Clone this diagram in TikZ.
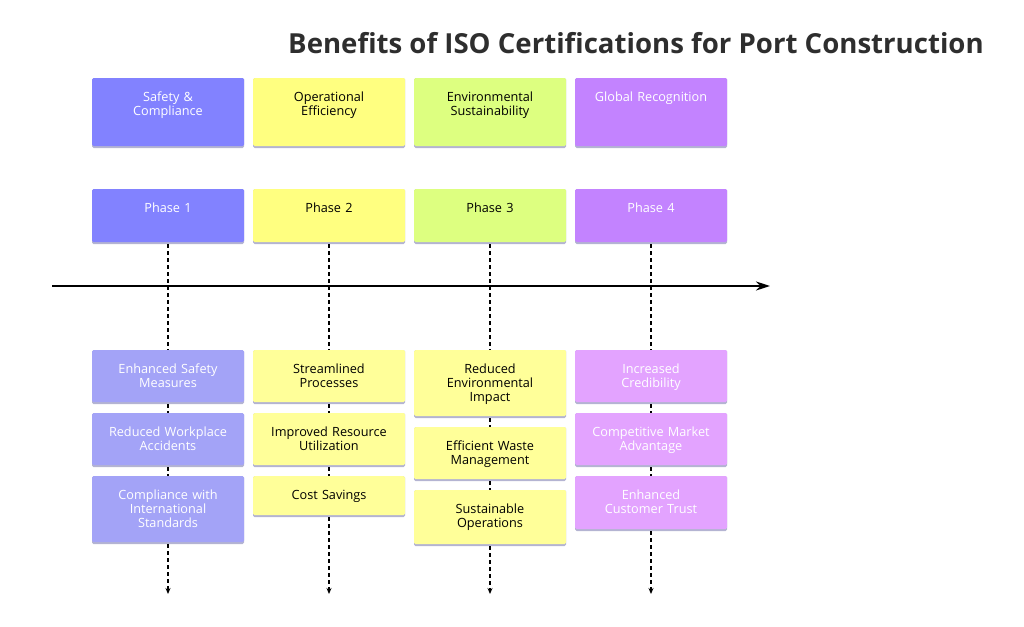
\documentclass[tikz,border=0pt]{standalone}
\usepackage{fontspec}
\setmainfont{Open Sans}
\usetikzlibrary{arrows.meta}
\definecolor{cA}{HTML}{8282FF}\definecolor{cAl}{HTML}{A3A3F7}
\definecolor{cB}{HTML}{FFFF80}\definecolor{cBl}{HTML}{FFFF99}
\definecolor{cC}{HTML}{DDFF80}
\definecolor{cD}{HTML}{C383FF}\definecolor{cDl}{HTML}{E3A3FF}
\definecolor{sh}{HTML}{B4B4D2}
\begin{document}
\begin{tikzpicture}[x=1pt,y=-1pt,
  lbl/.style={anchor=north,text width=146pt,align=center,font=\fontsize{12.7}{14}\selectfont,inner sep=0pt},
  dl/.style={line width=1.6pt,dash pattern=on 4pt off 3pt},
  ]
\useasboundingbox (0,0) rectangle (1024,626);
\node[anchor=center,font=\bfseries\fontsize{27.6}{30}\selectfont,text=black!82] (title) at (636,43) {Benefits of ISO Certifications for Port Construction};
\newcommand\bx[7]{% name, cx, top, bottom, fill, textcolor, text
  \fill[sh,rounded corners=1.5pt] (#2-76,#3) rectangle (#2+76,#4+2);
  \fill[#5,rounded corners=1.5pt] (#2-76,#3) rectangle (#2+76,#4);
  \coordinate (#1t) at (#2,#3); \coordinate (#1b) at (#2,#4+2);
  \node[lbl,text=#6] (#1) at (#2,#3+14) {#7};}
\bx{h1}{168}{78}{146}{cA}{white}{Safety \&\\Compliance}
\bx{h2}{329}{78}{146}{cB}{black}{Operational\\Efficiency}
\bx{h3}{490}{78}{146}{cC}{black}{Environmental\\Sustainability}
\bx{h4}{651}{78}{146}{cD}{white}{Global Recognition}
\bx{p1}{168}{189}{242}{cA}{white}{Phase 1}
\bx{p2}{329}{189}{242}{cB}{black}{Phase 2}
\bx{p3}{490}{189}{242}{cC}{black}{Phase 3}
\bx{p4}{651}{189}{242}{cD}{white}{Phase 4}
\bx{a1}{168}{350}{402}{cAl}{white}{Enhanced Safety\\Measures}
\bx{a2}{168}{413}{465}{cAl}{white}{Reduced Workplace\\Accidents}
\bx{a3}{168}{476}{542}{cAl}{white}{Compliance with\\International\\Standards}
\bx{b1}{329}{350}{402}{cBl}{black}{Streamlined\\Processes}
\bx{b2}{329}{413}{465}{cBl}{black}{Improved Resource\\Utilization}
\bx{b3}{329}{476}{515}{cBl}{black}{Cost Savings}
\bx{c1}{490}{350}{416}{cBl}{black}{Reduced\\Environmental\\Impact}
\bx{c2}{490}{427}{479}{cBl}{black}{Efficient Waste\\Management}
\bx{c3}{490}{490}{544}{cBl}{black}{Sustainable\\Operations}
\bx{d1}{651}{350}{402}{cDl}{white}{Increased\\Credibility}
\bx{d2}{651}{413}{465}{cDl}{white}{Competitive Market\\Advantage}
\bx{d3}{651}{476}{529}{cDl}{white}{Enhanced\\Customer Trust}
\coordinate (tl) at (52,286); \coordinate (tr) at (770,286);
\draw[line width=2.2pt,-{Stealth[length=14pt,width=9pt]}] (tl) -- (tr);
\foreach \c/\x in {a/168,b/329,c/490,d/651}{
  \coordinate (\c e) at (\x,594);
}
\foreach \p/\c in {1/a,2/b,3/c,4/d}{
  \draw[dl] (p\p b) -- (\c1t);
  \draw[dl] (\c1b) -- (\c2t);
  \draw[dl] (\c2b) -- (\c3t);
  \draw[dl,-{Stealth[length=6pt,width=5pt]}] (\c3b) -- (\c e);
}
\end{tikzpicture}
\end{document}
